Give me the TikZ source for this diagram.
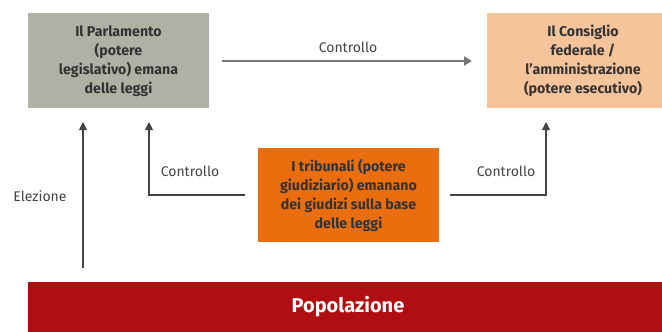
\documentclass[tikz,border=0pt]{standalone}
\usepackage{fontspec}
\setmainfont{Fira Sans}
\usetikzlibrary{arrows.meta}
\definecolor{parlgrey}{HTML}{B0B0A4}
\definecolor{consig}{HTML}{F5C49B}
\definecolor{tribor}{HTML}{EB6E0E}
\definecolor{popred}{HTML}{B00E10}
\definecolor{txtdark}{HTML}{333333}
\definecolor{txtgrey}{HTML}{444444}
\definecolor{arrgrey}{HTML}{777777}
\tikzset{
  px/.style={x=1pt,y=-1pt},
  boxtext/.style={font=\bfseries\fontsize{14.2}{19}\selectfont, text=txtdark, align=center},
  lbl/.style={font=\fontsize{14}{16}\selectfont, text=txtgrey},
  conn/.style={draw=txtgrey, line width=1.1pt, -{Triangle[length=8pt,width=8pt]}},
  topconn/.style={draw=arrgrey, line width=2pt, -{Triangle[length=8pt,width=9pt]}}
}
\begin{document}
\begin{tikzpicture}[px]
\useasboundingbox (0,0) rectangle (662,332);
\fill[parlgrey] (28,13) rectangle (209,108);
\node[boxtext] (parl) at (118.5,61) {Il Parlamento\\(potere\\legislativo) emana\\delle leggi};
\fill[consig] (487,13) rectangle (662,108);
\node[boxtext] (cons) at (583,61) {Il Consiglio\\federale /\\l’amministrazione\\(potere esecutivo)};
\fill[tribor] (258,148) rectangle (439,242);
\node[boxtext] (trib) at (348.5,195) {I tribunali (potere\\giudiziario) emanano\\dei giudizi sulla base\\delle leggi};
\fill[popred] (28,282) rectangle (662,332);
\node[font=\bfseries\fontsize{20}{22}\selectfont, text=white] (pop) at (348,307) {Popolazione};
% connectors
\coordinate (ta) at (222,61);
\coordinate (tb) at (472,61);
\draw[topconn] (ta) -- (tb);
\node[lbl] (lc1) at (348,47) {Controllo};
\coordinate (ea) at (83,268);
\coordinate (eb) at (83,122);
\draw[conn] (ea) -- (eb);
\node[lbl] (le) at (40,196) {Elezione};
\coordinate (la) at (245,195);
\coordinate (lc) at (149,195);
\coordinate (lb) at (149,122);
\draw[conn] (la) -- (lc) -- (lb);
\node[lbl] (lc2) at (190,171) {Controllo};
\coordinate (ra) at (450,195);
\coordinate (rc) at (546,195);
\coordinate (rb) at (546,122);
\draw[conn] (ra) -- (rc) -- (rb);
\node[lbl] (lc3) at (506,171) {Controllo};
\end{tikzpicture}
\end{document}
